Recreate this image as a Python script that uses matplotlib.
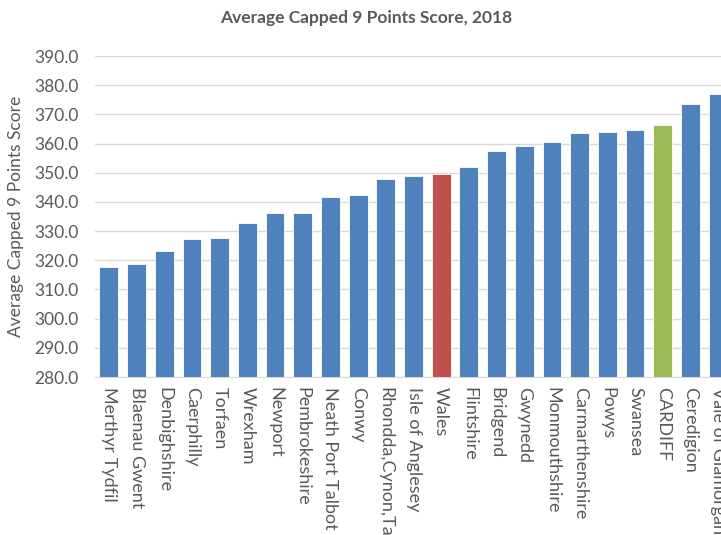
import numpy as np
import matplotlib.pyplot as plt

# data
areas = ["Merthyr Tydfil", "Blaenau Gwent", "Denbighshire", "Caerphilly", "Torfaen",
         "Wrexham", "Newport", "Pembrokeshire", "Neath Port Talbot", "Conwy",
         "Rhondda,Cynon,Taff", "Isle of Anglesey", "Wales", "Flintshire", "Bridgend",
         "Gwynedd", "Monmouthshire", "Carmarthenshire", "Powys", "Swansea",
         "CARDIFF", "Ceredigion", "Vale of Glamorgan"]
scores = [317.8, 318.7, 323.3, 327.2, 327.7, 332.7, 336.1, 336.1, 341.6, 342.5,
          348.0, 349.0, 349.5, 351.9, 357.3, 359.3, 360.4, 363.5, 363.9, 364.8,
          366.2, 373.7, 377.1]

blue = "#4f81bd"
colors = [blue] * len(areas)
colors[areas.index("Wales")] = "#c0504d"
colors[areas.index("CARDIFF")] = "#9bbb59"

plt.rcParams['font.family'] = ['Lato', 'DejaVu Sans']

W, H = 721, 535
fig = plt.figure(figsize=(W / 100, H / 100), dpi=100)
# plot area runs off the right edge, like the source screenshot
left, right, top, bottom = 95, 732, 56, 377
ax = fig.add_axes([left / W, 1 - bottom / H, (right - left) / W, (bottom - top) / H])

x = np.arange(len(areas))
ax.bar(x, scores, width=0.68, color=colors, edgecolor="#ffffff", linewidth=0.6, zorder=3)
ax.set_ylim(280, 390)
ax.set_xlim(-0.5, len(areas) - 0.5)
ax.set_yticks(np.arange(280, 391, 10))
ax.set_yticklabels([f"{v:.1f}" for v in np.arange(280, 391, 10)])
ax.set_xticks(x)
ax.set_xticklabels(areas, rotation=270, ha="center", va="top")

ax.grid(axis="y", color="#d9d9d9", linewidth=1, zorder=0)
for s in ["top", "right", "left"]:
    ax.spines[s].set_visible(False)
ax.spines["bottom"].set_color("#d9d9d9")
ax.tick_params(axis="both", length=0, colors="#595959")
ax.tick_params(axis="y", pad=12, labelsize=12.5)
ax.tick_params(axis="x", pad=7, labelsize=13)

ax.set_ylabel("Average Capped 9 Points Score", color="#595959", fontsize=12.5)
ax.yaxis.set_label_coords(-0.111, 0.5)
fig.text(366 / W, 1 - 18 / H, "Average Capped 9 Points Score, 2018",
         ha="center", va="center", fontsize=12.5, fontweight="bold", color="#595959")

fig.savefig("out.png", dpi=100)
